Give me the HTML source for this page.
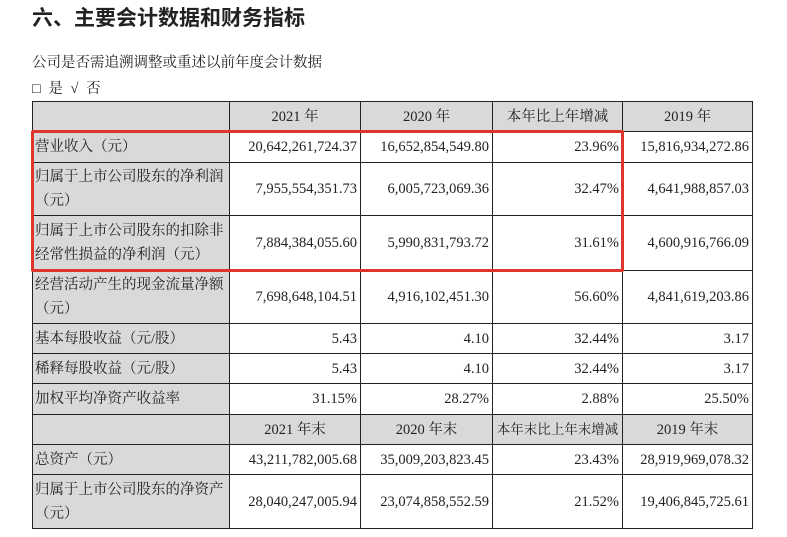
<!DOCTYPE html>
<html><head><meta charset="utf-8"><style>
body{margin:0;width:787px;height:537px;background:#fff;position:relative;overflow:hidden;font-family:"Liberation Serif","Noto Serif CJK SC",serif;color:#222}
.t{position:absolute;white-space:nowrap}
table{position:absolute;left:32px;top:101px;border-collapse:collapse;font-size:14.5px;table-layout:fixed;width:720px}
td{border:1.3px solid #222;padding:0 3px;line-height:24px;overflow:hidden}
td.l{background:#d9d9d9;text-align:left;padding:0 2px}
td.n{text-align:right;white-space:nowrap}
tr.h td{background:#d9d9d9;text-align:center;white-space:nowrap}
#box{position:absolute;left:31px;top:130px;width:587px;height:136px;border:3px solid #e0352d;border-radius:2px}
</style></head><body>
<div class="t" style="left:32px;top:2px;font-size:21px;font-weight:bold;font-family:'Liberation Sans','Noto Sans CJK SC',sans-serif">六、主要会计数据和财务指标</div>
<div class="t" style="left:32px;top:51px;font-size:14.5px">公司是否需追溯调整或重述以前年度会计数据</div>
<div class="t" style="left:32px;top:77px;font-size:14.5px;word-spacing:4px">□ 是 √ 否</div>
<table>
<colgroup><col style="width:197px"><col style="width:131px"><col style="width:132px"><col style="width:130px"><col style="width:130px"></colgroup>
<tr class="h" style="height:30px" ><td></td><td>2021 年</td><td>2020 年</td><td>本年比上年增减</td><td>2019 年</td></tr>
<tr style="height:31px"><td class="l">营业收入（元）</td><td class="n">20,642,261,724.37</td><td class="n">16,652,854,549.80</td><td class="n">23.96%</td><td class="n">15,816,934,272.86</td></tr>
<tr style="height:53px"><td class="l">归属于上市公司股东的净利润（元）</td><td class="n">7,955,554,351.73</td><td class="n">6,005,723,069.36</td><td class="n">32.47%</td><td class="n">4,641,988,857.03</td></tr>
<tr style="height:55px"><td class="l">归属于上市公司股东的扣除非经常性损益的净利润（元）</td><td class="n">7,884,384,055.60</td><td class="n">5,990,831,793.72</td><td class="n">31.61%</td><td class="n">4,600,916,766.09</td></tr>
<tr style="height:53px"><td class="l">经营活动产生的现金流量净额（元）</td><td class="n">7,698,648,104.51</td><td class="n">4,916,102,451.30</td><td class="n">56.60%</td><td class="n">4,841,619,203.86</td></tr>
<tr style="height:30px"><td class="l">基本每股收益（元/股）</td><td class="n">5.43</td><td class="n">4.10</td><td class="n">32.44%</td><td class="n">3.17</td></tr>
<tr style="height:30px"><td class="l">稀释每股收益（元/股）</td><td class="n">5.43</td><td class="n">4.10</td><td class="n">32.44%</td><td class="n">3.17</td></tr>
<tr style="height:31px"><td class="l">加权平均净资产收益率</td><td class="n">31.15%</td><td class="n">28.27%</td><td class="n">2.88%</td><td class="n">25.50%</td></tr>
<tr class="h" style="height:30px"><td></td><td>2021 年末</td><td>2020 年末</td><td style="font-size:13.5px;padding:0">本年末比上年末增减</td><td>2019 年末</td></tr>
<tr style="height:30px"><td class="l">总资产（元）</td><td class="n">43,211,782,005.68</td><td class="n">35,009,203,823.45</td><td class="n">23.43%</td><td class="n">28,919,969,078.32</td></tr>
<tr style="height:54px"><td class="l">归属于上市公司股东的净资产（元）</td><td class="n">28,040,247,005.94</td><td class="n">23,074,858,552.59</td><td class="n">21.52%</td><td class="n">19,406,845,725.61</td></tr>
</table>
<div id="box"></div>
</body></html>
